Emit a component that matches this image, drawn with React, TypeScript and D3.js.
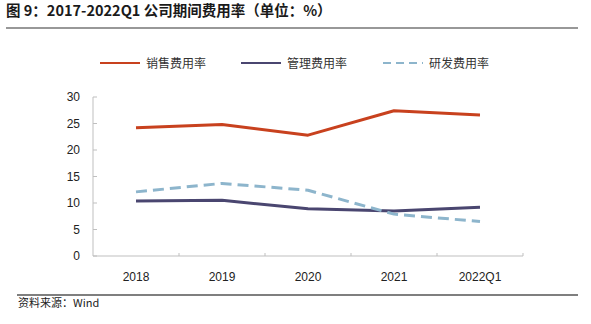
import React from "react";
import * as d3 from "d3";

const categories = ["2018", "2019", "2020", "2021", "2022Q1"];
const salesRate = [24.2, 24.8, 22.8, 27.4, 26.6];
const adminRate = [10.4, 10.5, 8.9, 8.5, 9.2];
const rdRate = [12.1, 13.7, 12.4, 7.9, 6.5];
const yTicks = [0, 5, 10, 15, 20, 25, 30];
const seriesNames = ["销售费用率", "管理费用率", "研发费用率"];

const W = 591;
const H = 324;
const left = 93;
const right = 523;
const top = 97;
const bottom = 256;

export default function App() {
  const x = d3.scaleBand<string>().domain(categories).range([left, right]);
  const y = d3.scaleLinear().domain([0, 30]).range([bottom, top]);
  const cx = (c: string) => (x(c) as number) + x.bandwidth() / 2;
  const line = d3
    .line<number>()
    .x((_, i) => cx(categories[i]))
    .y((d) => y(d));

  const series = [
    { name: seriesNames[0], data: salesRate, color: "#C8411E", dash: undefined },
    { name: seriesNames[1], data: adminRate, color: "#4A4670", dash: undefined },
    { name: seriesNames[2], data: rdRate, color: "#8DB5CC", dash: "11 6" },
  ];
  const legendX = [100, 241, 383];
  const cjk = "'Noto Sans CJK SC', 'Noto Sans', sans-serif";
  const latin = "'Liberation Sans', Arial, sans-serif";

  return (
    <svg
      width={W}
      height={H}
      style={{ position: "absolute", left: 0, top: 0, background: "#fff" }}
    >
      <text x={6} y={15.5} fontFamily={cjk} fontWeight="bold" fontSize={14.5} fill="#1a1a1a">
        图 9：2017-2022Q1 公司期间费用率（单位：%）
      </text>
      <line x1={6} x2={578} y1={28} y2={28} stroke="#333" strokeWidth={1.2} />

      {series.map((s, i) => (
        <g key={s.name}>
          <line
            x1={legendX[i]}
            x2={legendX[i] + 40}
            y1={63}
            y2={63}
            stroke={s.color}
            strokeWidth={2}
            strokeDasharray={s.dash ? "8 5" : undefined}
          />
          <text x={legendX[i] + 46} y={67.5} fontFamily={cjk} fontSize={12} fill="#333">
            {s.name}
          </text>
        </g>
      ))}

      {/* y axis */}
      <line x1={left} x2={left} y1={top} y2={bottom} stroke="#bfbfbf" strokeWidth={1} />
      {yTicks.map((t) => (
        <g key={t}>
          <line x1={left} x2={left + 4} y1={y(t)} y2={y(t)} stroke="#bfbfbf" />
          <text
            x={left - 13}
            y={y(t) + 4}
            textAnchor="end"
            fontFamily={latin}
            fontSize={12}
            fill="#222"
          >
            {t}
          </text>
        </g>
      ))}

      {/* x axis */}
      <line x1={left} x2={right} y1={bottom} y2={bottom} stroke="#bfbfbf" />
      {categories.map((c) => (
        <g key={c}>
          <line
            x1={(x(c) as number) + x.bandwidth()}
            x2={(x(c) as number) + x.bandwidth()}
            y1={bottom}
            y2={bottom - 3}
            stroke="#bfbfbf"
          />
          <text
            x={cx(c)}
            y={281}
            textAnchor="middle"
            fontFamily={latin}
            fontSize={12}
            fill="#222"
          >
            {c}
          </text>
        </g>
      ))}

      {series.map((s) => (
        <path
          key={s.name}
          d={line(s.data) as string}
          fill="none"
          stroke={s.color}
          strokeWidth={3}
          strokeDasharray={s.dash}
          strokeLinejoin="round"
        />
      ))}

      <line x1={17} x2={578} y1={295} y2={295} stroke="#555" strokeWidth={1.5} />
      <text x={18} y={307} fontFamily={cjk} fontSize={11} fill="#222">
        资料来源：Wind
      </text>
    </svg>
  );
}
